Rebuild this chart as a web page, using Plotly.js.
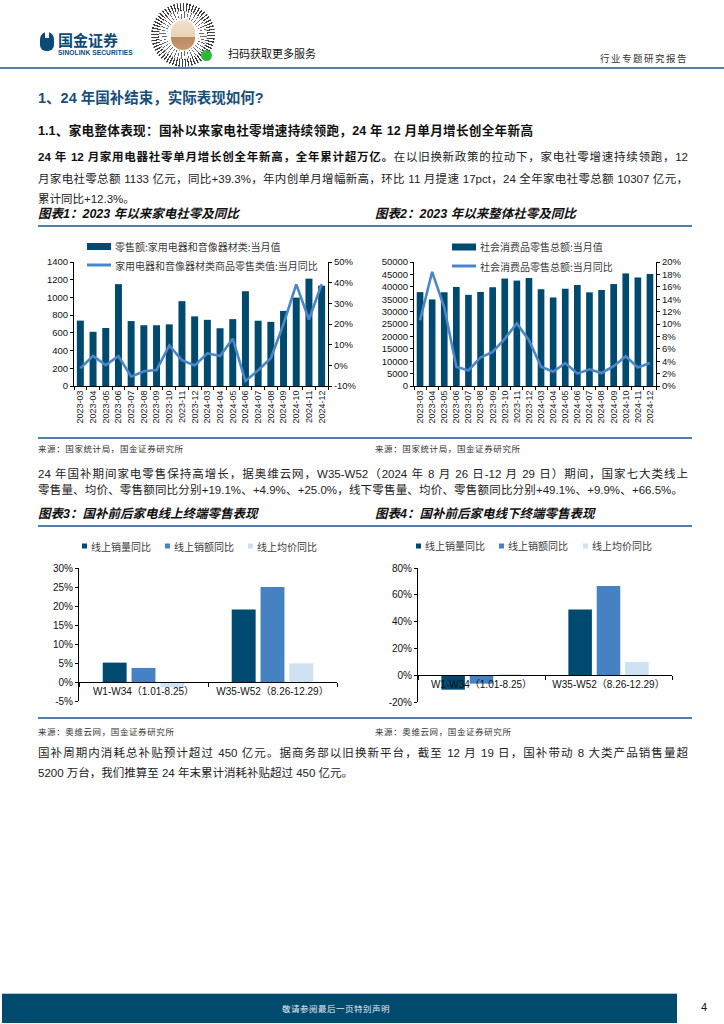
<!DOCTYPE html>
<html>
<head>
<meta charset="utf-8">
<script src="https://cdn.plot.ly/plotly-3.0.1.min.js"></script>
<style>
  html, body { margin:0; padding:0; background:#fff; }
  body { position:relative; width:724px; height:1024px; overflow:hidden;
         font-family:"Liberation Sans", Arial, "Noto Sans CJK SC", sans-serif; color:#111; }
  .abs { position:absolute; }
  .ln { position:absolute; white-space:normal; line-height:16px; }
  .just { text-align:justify; text-align-last:justify; }
  .rule { position:absolute; height:2px; background:#4f80ab; }
  .fig { position:absolute; font-size:12.5px; font-weight:bold; font-style:italic; line-height:16px; color:#111; }
  .src { position:absolute; font-size:8.5px; letter-spacing:0.6px; color:#333; line-height:12px; }
  .chart { position:absolute; }
  .p { font-size:11.5px; color:#222; }
</style>
</head>
<body>

<!-- header -->
<div class="abs" style="left:40px;top:32px;width:14px;height:19px;background:#0b4a75;border-radius:7px 7px 6px 6px;"></div>
<div class="abs" style="left:45px;top:32px;width:4px;height:6px;background:#fff;"></div>
<div class="abs" style="left:58px;top:31px;font-size:15px;font-weight:bold;color:#0b4a75;line-height:18px;font-family:'Noto Sans CJK SC';">国金证券</div>
<div class="abs" style="left:58px;top:49px;font-size:6.6px;font-weight:bold;color:#0b4a75;line-height:8px;letter-spacing:0.1px;">SINOLINK SECURITIES</div>

<!-- mini-program code -->
<div class="abs" style="left:151px;top:3px;width:64px;height:64px;border-radius:50%;
  background:repeating-conic-gradient(#3c3c3c 0deg 2.5deg, #ffffff 2.5deg 6deg);"></div>
<div class="abs" style="left:159px;top:11px;width:48px;height:48px;border-radius:50%;
  background:repeating-conic-gradient(#ffffff 0deg 3deg, #6a6a6a 3deg 5deg, #ffffff 5deg 9deg);"></div>
<div class="abs" style="left:167px;top:19px;width:32px;height:32px;border-radius:50%;background:#fff;"></div>
<div class="abs" style="left:171px;top:20px;width:24px;height:30px;border-radius:12px;background:linear-gradient(#efe2cf 0%,#e8d3b6 55%,#b98a5e 56%,#c99a70 100%);"></div>
<div class="abs" style="left:201px;top:50px;width:11px;height:11px;border-radius:50%;background:#2cb83a;"></div>

<div class="abs" style="left:228px;top:46px;font-size:11px;line-height:14px;font-family:'Noto Sans CJK SC';color:#111;">扫码获取更多服务</div>
<div class="abs" style="left:600px;top:52px;font-size:9.5px;line-height:12px;letter-spacing:1.5px;font-family:'Noto Sans CJK SC';color:#333;">行业专题研究报告</div>
<div class="rule" style="left:0px;top:67px;width:724px;height:2px;background:#4f7fa8;"></div>

<!-- headings -->
<div class="ln" style="left:38px;top:89px;font-size:14.5px;font-weight:bold;color:#174e7a;line-height:18px;">1、24 年国补结束，实际表现如何?</div>
<div class="ln just" style="left:38px;top:123px;width:495px;font-size:12.6px;font-weight:bold;color:#111;">1.1、家电整体表现：国补以来家电社零增速持续领跑，24 年 12 月单月增长创全年新高</div>

<div class="ln just p" style="left:38px;top:149px;width:650px;"><b style="color:#111">24 年 12 月家用电器社零单月增长创全年新高，全年累计超万亿。</b>在以旧换新政策的拉动下，家电社零增速持续领跑，12</div>
<div class="ln just p" style="left:38px;top:171px;width:650px;">月家电社零总额 1133 亿元，同比+39.3%，年内创单月增幅新高，环比 11 月提速 17pct，24 全年家电社零总额 10307 亿元，</div>
<div class="ln p" style="left:38px;top:191px;">累计同比+12.3%。</div>

<div class="fig" style="left:38px;top:206px;">图表1：2023 年以来家电社零及同比</div>
<div class="fig" style="left:375px;top:206px;">图表2：2023 年以来整体社零及同比</div>
<div class="rule" style="left:38px;top:225px;width:654px;"></div>

<div id="c1" class="chart" style="left:30px;top:230px;width:340px;height:200px;"></div>
<div id="c2" class="chart" style="left:370px;top:230px;width:340px;height:200px;"></div>

<div class="rule" style="left:38px;top:437px;width:654px;"></div>
<div class="src" style="left:38px;top:443px;">来源：国家统计局，国金证券研究所</div>
<div class="src" style="left:375px;top:443px;">来源：国家统计局，国金证券研究所</div>

<div class="ln just p" style="left:38px;top:466px;width:650px;">24 年国补期间家电零售保持高增长，据奥维云网，W35-W52（2024 年 8 月 26 日-12 月 29 日）期间，国家七大类线上</div>
<div class="ln just p" style="left:38px;top:482px;width:645px;">零售量、均价、零售额同比分别+19.1%、+4.9%、+25.0%，线下零售量、均价、零售额同比分别+49.1%、+9.9%、+66.5%。</div>

<div class="fig" style="left:38px;top:506px;">图表3：国补前后家电线上终端零售表现</div>
<div class="fig" style="left:375px;top:506px;">图表4：国补前后家电线下终端零售表现</div>
<div class="rule" style="left:38px;top:525px;width:654px;"></div>

<div id="c3" class="chart" style="left:30px;top:530px;width:340px;height:195px;"></div>
<div id="c4" class="chart" style="left:370px;top:530px;width:340px;height:195px;"></div>

<div class="rule" style="left:38px;top:717px;width:654px;"></div>
<div class="src" style="left:38px;top:726px;">来源：奥维云网，国金证券研究所</div>
<div class="src" style="left:375px;top:726px;">来源：奥维云网，国金证券研究所</div>

<div class="ln just p" style="left:38px;top:745px;width:650px;">国补周期内消耗总补贴预计超过 450 亿元。据商务部以旧换新平台，截至 12 月 19 日，国补带动 8 大类产品销售量超</div>
<div class="ln p" style="left:38px;top:765px;">5200 万台，我们推算至 24 年末累计消耗补贴超过 450 亿元。</div>

<!-- footer -->
<div class="abs" style="left:2px;top:993px;width:675px;height:1px;background:#b9c6d2;"></div>
<div class="abs" style="left:2px;top:994px;width:675px;height:29px;background:#004a6e;"></div>
<div class="abs" style="left:282px;top:1002px;font-size:8.5px;line-height:12px;letter-spacing:0.5px;color:#e8eef3;font-family:'Noto Sans CJK SC';">敬请参阅最后一页特别声明</div>
<div class="abs" style="left:701px;top:1001px;font-size:11px;line-height:13px;color:#111;">4</div>

<script>
// ---------- data ----------
const months = ['2023-03','2023-04','2023-05','2023-06','2023-07','2023-08','2023-09','2023-10','2023-11','2023-12',
                '2024-03','2024-04','2024-05','2024-06','2024-07','2024-08','2024-09','2024-10','2024-11','2024-12'];
const applianceSales = [738, 612, 655, 1150, 733, 686, 686, 696, 958, 786,
                        747, 652, 755, 1070, 737, 724, 848, 998, 1212, 1133];
const applianceYoY = [-1.4, 4.6, 0.1, 4.5, -5.5, -2.9, -2.3, 9.6, 2.5, -0.1,
                      5.8, 4.5, 12.9, -7.6, -2.4, 3.4, 20.0, 39.2, 22.2, 39.3];
const retailTotal = [37855, 34910, 37803, 39951, 36761, 37933, 39826, 43333, 42505, 43550,
                     39020, 35699, 39211, 40732, 37757, 38726, 41112, 45396, 43763, 45172];
const retailYoY = [10.6, 18.4, 12.7, 3.1, 2.5, 4.6, 5.5, 7.6, 10.1, 7.4,
                   3.1, 2.3, 3.7, 2.0, 2.7, 2.1, 3.2, 4.8, 3.0, 3.7];

const periods = ['W1-W34（1.01-8.25）', 'W35-W52（8.26-12.29）'];
const onlineVolumeYoY = [5.1, 19.1];
const onlineValueYoY  = [3.7, 25.0];
const onlinePriceYoY  = [-1.4, 4.9];
const offlineVolumeYoY = [-10.8, 49.1];
const offlineValueYoY  = [-6.3, 66.5];
const offlinePriceYoY  = [0.8, 9.9];

// tick labels
const c1LeftTicks  = [0, 200, 400, 600, 800, 1000, 1200, 1400];
const c1RightTicks = [-10, 0, 10, 20, 30, 40, 50];
const c1RightLabels = ['-10%', '0%', '10%', '20%', '30%', '40%', '50%'];
const c2LeftTicks  = [0, 5000, 10000, 15000, 20000, 25000, 30000, 35000, 40000, 45000, 50000];
const c2LeftLabels = ['0', '5000', '10000', '15000', '20000', '25000', '30000', '35000', '40000', '45000', '50000'];
const c2RightTicks = [0, 2, 4, 6, 8, 10, 12, 14, 16, 18, 20];
const c2RightLabels = ['0%', '2%', '4%', '6%', '8%', '10%', '12%', '14%', '16%', '18%', '20%'];
const c3Ticks  = [-5, 0, 5, 10, 15, 20, 25, 30];
const c3Labels = ['-5%', '0%', '5%', '10%', '15%', '20%', '25%', '30%'];
const c4Ticks  = [-20, 0, 20, 40, 60, 80];
const c4Labels = ['-20%', '0%', '20%', '40%', '60%', '80%'];

const name1Bar  = '零售额:家用电器和音像器材类:当月值';
const name1Line = '家用电器和音像器材类商品零售类值:当月同比';
const name2Bar  = '社会消费品零售总额:当月值';
const name2Line = '社会消费品零售总额:当月同比';
const name3 = ['线上销量同比', '线上销额同比', '线上均价同比'];
const name4 = ['线上销量同比', '线上销额同比', '线上均价同比'];

// ---------- styles ----------
const DARK = '#004a70', MID = '#4682c3', LIGHT = '#cfe2f3', LINE = '#4a86c8';
const NUMF = 'Liberation Sans, Arial, Noto Sans CJK SC';
const CJKF = 'Noto Sans CJK SC';
const cfg = {staticPlot:true, displayModeBar:false};

function mapper(box){
  return {
    x: px => (px - box.left - box.l) / box.w,
    y: py => 1 - (py - box.top - box.t) / box.h
  };
}
function legendItems(m, items){
  const shapes = [], anns = [];
  items.forEach(it => {
    if (it.kind === 'bar') {
      shapes.push({type:'rect', xref:'paper', yref:'paper', x0:m.x(it.sx0), x1:m.x(it.sx1),
                   y0:m.y(it.sy + it.sh/2), y1:m.y(it.sy - it.sh/2), fillcolor:it.color, line:{width:0}});
    } else {
      shapes.push({type:'line', xref:'paper', yref:'paper', x0:m.x(it.sx0), x1:m.x(it.sx1),
                   y0:m.y(it.sy), y1:m.y(it.sy), line:{color:it.color, width:3}});
    }
    anns.push({xref:'paper', yref:'paper', x:m.x(it.tx), y:m.y(it.sy), xanchor:'left', yanchor:'middle',
               text:it.text, showarrow:false, font:{family:CJKF, size:it.fs || 10, color:'#3a3a3a'}});
  });
  return {shapes, anns};
}

function axisBase(){
  return {showline:true, linecolor:'#000', linewidth:1, ticks:'outside', ticklen:3, tickcolor:'#000',
          showgrid:false, zeroline:false, automargin:false, fixedrange:true};
}

function comboChart(id, box, bars, line, y1, y2, legendSpec){
  const m = mapper(box);
  const lg = legendItems(m, legendSpec);
  const traces = [
    {type:'bar', x:months, y:bars, marker:{color:DARK}, hoverinfo:'skip'},
    {type:'scatter', mode:'lines', x:months, y:line, yaxis:'y2', line:{color:LINE, width:2.6}, hoverinfo:'skip'}
  ];
  const layout = {
    width:box.W, height:box.H,
    margin:{l:box.l, r:box.W - box.l - box.w, t:box.t, b:box.H - box.t - box.h, pad:0},
    paper_bgcolor:'rgba(0,0,0,0)', plot_bgcolor:'rgba(0,0,0,0)',
    showlegend:false, bargap:0.45,
    font:{family:NUMF, size:9.5, color:'#111'},
    xaxis:Object.assign(axisBase(), {type:'category', tickangle:-90, tickson:'boundaries',
           tickfont:{size:9, family:NUMF, color:'#222'}}),
    yaxis:Object.assign(axisBase(), {range:y1.range, tickmode:'array', tickvals:y1.vals, ticktext:y1.text,
           tickfont:{size:9.5, family:NUMF, color:'#111'}}),
    yaxis2:Object.assign(axisBase(), {range:y2.range, overlaying:'y', side:'right', tickmode:'array',
           tickvals:y2.vals, ticktext:y2.text, tickfont:{size:9.5, family:NUMF, color:'#111'}}),
    shapes:lg.shapes, annotations:lg.anns
  };
  Plotly.newPlot(id, traces, layout, cfg);
}

// chart 1
const box1 = {left:30, top:230, W:340, H:200, l:44, t:32, w:254, h:124};
comboChart('c1', box1, applianceSales, applianceYoY,
  {range:[0,1400], vals:c1LeftTicks, text:c1LeftTicks.map(String)},
  {range:[-10,50], vals:c1RightTicks, text:c1RightLabels}, [
  {kind:'bar', color:DARK, sx0:87, sx1:111, sy:246.5, sh:7, tx:113, text:name1Bar},
  {kind:'line', color:LINE, sx0:87, sx1:111, sy:265, tx:113, text:name1Line}
]);

// chart 2
const box2 = {left:370, top:230, W:340, H:200, l:44, t:32, w:242, h:124};
comboChart('c2', box2, retailTotal, retailYoY,
  {range:[0,50000], vals:c2LeftTicks, text:c2LeftLabels},
  {range:[0,20], vals:c2RightTicks, text:c2RightLabels}, [
  {kind:'bar', color:DARK, sx0:452, sx1:476, sy:247, sh:7, tx:478, text:name2Bar},
  {kind:'line', color:LINE, sx0:452, sx1:476, sy:266, tx:478, text:name2Line}
]);

function groupChart(id, box, series, names, yRange, tickVals, tickText, legendX){
  const m = mapper(box);
  const colors = [DARK, MID, LIGHT];
  const lg = legendItems(m, names.map((n,i) => ({kind:'bar', color:colors[i], sx0:legendX[i], sx1:legendX[i]+5,
                                                   sy:546, sh:5, tx:legendX[i]+7, text:n, fs:10})));
  const traces = series.map((s,i) => ({type:'bar', x:periods, y:s, name:names[i], marker:{color:colors[i]}, hoverinfo:'skip'}));
  const zeroPos = (0 - yRange[0]) / (yRange[1] - yRange[0]);
  const layout = {
    width:box.W, height:box.H,
    margin:{l:box.l, r:box.W - box.l - box.w, t:box.t, b:box.H - box.t - box.h, pad:0},
    paper_bgcolor:'rgba(0,0,0,0)', plot_bgcolor:'rgba(0,0,0,0)',
    showlegend:false, barmode:'group', bargap:0.33, bargroupgap:0.17,
    font:{family:NUMF, size:10, color:'#111'},
    xaxis:Object.assign(axisBase(), {type:'category', anchor:'free', position:zeroPos, ticklen:4,
           tickson:'boundaries', tickfont:{size:10, family:NUMF, color:'#111'}}),
    yaxis:Object.assign(axisBase(), {range:yRange, tickmode:'array', tickvals:tickVals, ticktext:tickText,
           tickfont:{size:10, family:NUMF, color:'#111'}}),
    shapes:lg.shapes, annotations:lg.anns
  };
  Plotly.newPlot(id, traces, layout, cfg);
}

const box3 = {left:30, top:530, W:340, H:195, l:49, t:38, w:258, h:133};
groupChart('c3', box3, [onlineVolumeYoY, onlineValueYoY, onlinePriceYoY], name3, [-5,30], c3Ticks, c3Labels, [82,165,248]);

const box4 = {left:370, top:530, W:340, H:195, l:48, t:38, w:254, h:134};
groupChart('c4', box4, [offlineVolumeYoY, offlineValueYoY, offlinePriceYoY], name4, [-20,80], c4Ticks, c4Labels, [416,499,583]);
</script>
</body>
</html>
